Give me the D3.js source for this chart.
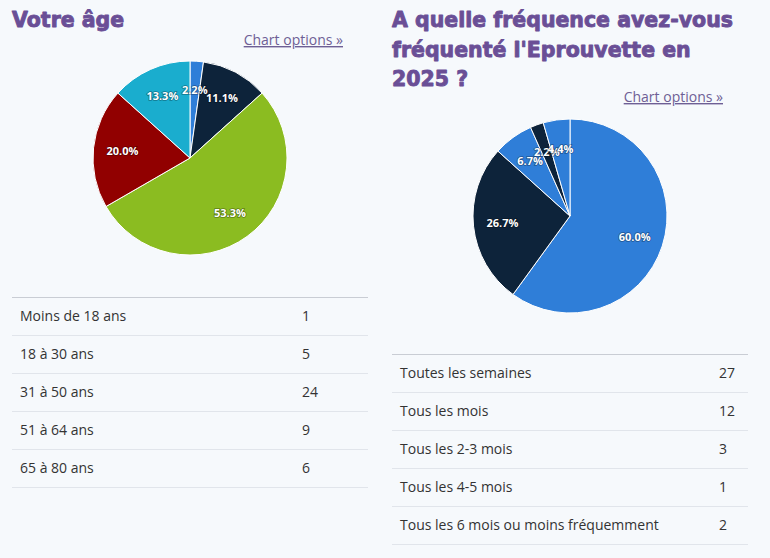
<!DOCTYPE html>
<html>
<head>
<meta charset="utf-8">
<title>Sondage</title>
<script src="https://cdn.jsdelivr.net/npm/d3@7"></script>
<style>
  body { margin: 0; background: #f6f9fc; }
  .title { font-family: "DejaVu Sans", sans-serif; font-weight: bold; font-size: 20.5px; fill: #6a4f96;
           stroke: #6a4f96; stroke-width: 0.9px; stroke-linejoin: round; }
  .link { font-family: "Open Sans", sans-serif; font-size: 14px; fill: #6e5f95; text-decoration: underline; }
  .cell { font-family: "Open Sans", sans-serif; font-size: 14px; fill: #333; }
  .pct { font-family: "Open Sans", sans-serif; font-weight: bold; font-size: 11px; fill: #fff;
         stroke: rgba(0,0,0,0.35); stroke-width: 1.6px; paint-order: stroke; }
</style>
</head>
<body>
<script>
// donnees du sondage
var ageTitle = ["Votre âge"];
var ageLabels = ["Moins de 18 ans", "18 à 30 ans", "31 à 50 ans", "51 à 64 ans", "65 à 80 ans"];
var ageValues = [1, 5, 24, 9, 6];

var freqTitle = ["A quelle fréquence avez-vous", "fréquenté l'Eprouvette en", "2025 ?"];
var freqLabels = ["Toutes les semaines", "Tous les mois", "Tous les 2-3 mois", "Tous les 4-5 mois", "Tous les 6 mois ou moins fréquemment"];
var freqValues = [27, 12, 3, 1, 2];

var linkText = "Chart options »";

// couleurs
var ageColors = ["#2f7ed8", "#0d233a", "#8bbc21", "#910000", "#1aadce"];
var freqColors = ["#2f7ed8", "#0d233a"];

var svg = d3.select("body").append("svg")
  .attr("width", 770)
  .attr("height", 558);

var fmt = d3.format(".1%");

// un bloc = titre + lien + camembert + tableau
function drawBlock(o) {
  var g = svg.append("g");

  g.append("text")
    .attr("class", "title")
    .selectAll("tspan")
    .data(o.title)
    .enter().append("tspan")
    .attr("x", o.x)
    .attr("y", function(d, i) { return o.titleY + i * 29.5; })
    .text(function(d) { return d; });

  g.append("text")
    .attr("class", "link")
    .attr("x", o.linkX)
    .attr("y", o.linkY)
    .attr("text-anchor", "end")
    .text(linkText);

  var total = d3.sum(o.values);
  var pie = d3.pie().sort(null).value(function(d) { return d; });
  var arc = d3.arc().innerRadius(0).outerRadius(97);
  var labelArc = d3.arc().innerRadius(68).outerRadius(68);
  var color = d3.scaleOrdinal().domain(d3.range(o.values.length)).range(o.colors);

  var p = g.append("g").attr("transform", "translate(" + o.cx + "," + o.cy + ")");
  var arcs = pie(o.values);

  p.selectAll("path")
    .data(arcs)
    .enter().append("path")
    .attr("d", arc)
    .attr("fill", function(d, i) { return color(i); })
    .attr("stroke", "#fff")
    .attr("stroke-width", 1);

  p.selectAll(".pct")
    .data(arcs)
    .enter().append("text")
    .attr("class", "pct")
    .attr("text-anchor", "middle")
    .attr("dy", "0.35em")
    .attr("transform", function(d) { return "translate(" + labelArc.centroid(d) + ")"; })
    .text(function(d) { return fmt(d.value / total); });

  // tableau
  var y = d3.scaleBand()
    .domain(d3.range(o.labels.length))
    .range([o.tableY, o.tableY + 38 * o.labels.length]);

  g.append("line")
    .attr("x1", o.x).attr("x2", o.x + 356)
    .attr("y1", o.tableY + 0.5).attr("y2", o.tableY + 0.5)
    .attr("stroke", "#c9cdd4");

  var rows = g.selectAll(".row")
    .data(o.labels)
    .enter().append("g")
    .attr("class", "row")
    .attr("transform", function(d, i) { return "translate(0," + y(i) + ")"; });

  rows.append("line")
    .attr("x1", o.x).attr("x2", o.x + 356)
    .attr("y1", y.bandwidth() + 0.5).attr("y2", y.bandwidth() + 0.5)
    .attr("stroke", "#e1e5eb");

  rows.append("text")
    .attr("class", "cell")
    .attr("x", o.x + 8)
    .attr("y", 24)
    .text(function(d) { return d; });

  rows.append("text")
    .attr("class", "cell")
    .attr("x", o.valueX)
    .attr("y", 24)
    .text(function(d, i) { return o.values[i]; });
}

drawBlock({ x: 12, title: ageTitle, titleY: 27, linkX: 343, linkY: 45,
  cx: 190, cy: 158, values: ageValues, labels: ageLabels, colors: ageColors,
  tableY: 297, valueX: 302 });

drawBlock({ x: 392, title: freqTitle, titleY: 27, linkX: 723, linkY: 102,
  cx: 570, cy: 216, values: freqValues, labels: freqLabels, colors: freqColors,
  tableY: 354, valueX: 719 });
</script>
</body>
</html>
